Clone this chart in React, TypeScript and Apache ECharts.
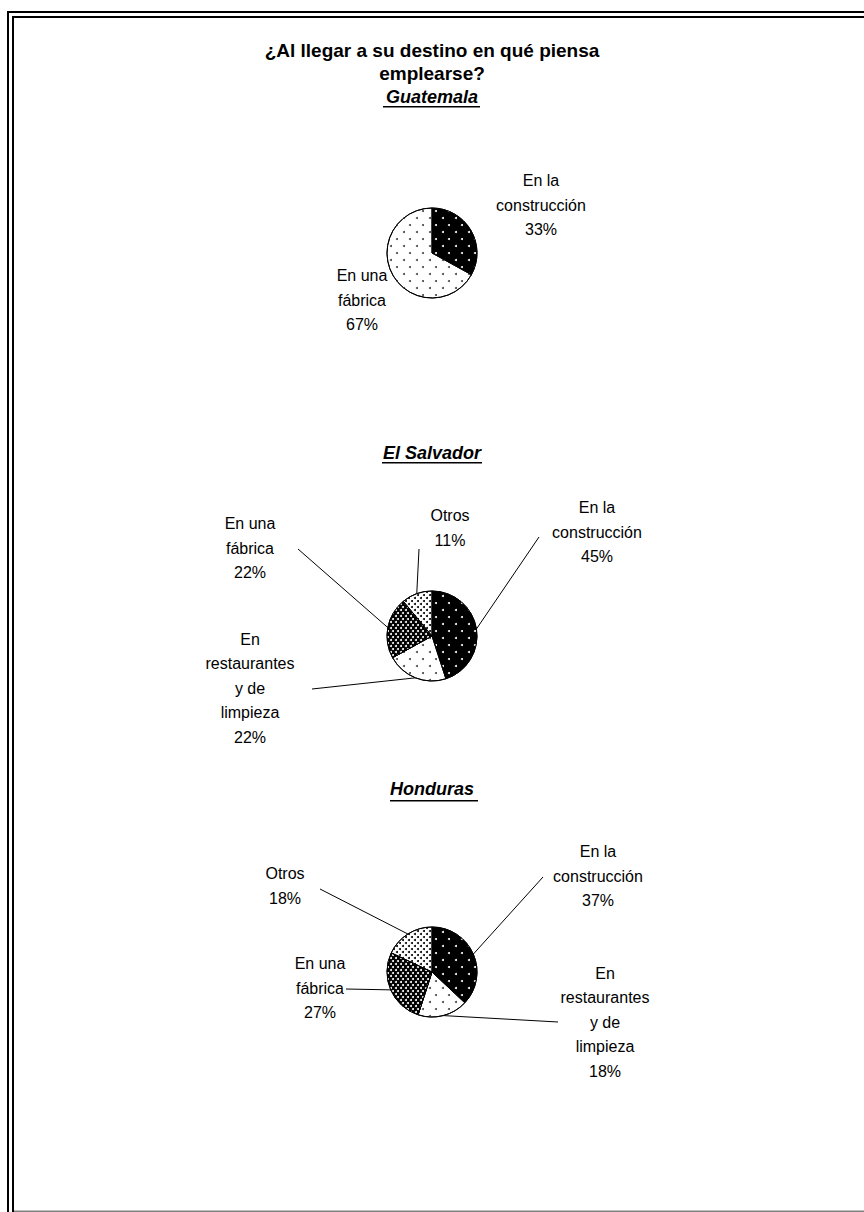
import React, { useEffect, useRef } from 'react';
import * as echarts from 'echarts';

const chartTitle = '¿Al llegar a su destino en qué piensa\nemplearse?';
const countries = ['Guatemala', 'El Salvador', 'Honduras'];

const categoriesGuatemala = ['En la\nconstrucción', 'En una\nfábrica'];
const valuesGuatemala = [33, 67];

const categoriesElSalvador = ['En la\nconstrucción', 'En\nrestaurantes\ny de\nlimpieza', 'En una\nfábrica', 'Otros'];
const valuesElSalvador = [45, 22, 22, 11];

const categoriesHonduras = ['En la\nconstrucción', 'En\nrestaurantes\ny de\nlimpieza', 'En una\nfábrica', 'Otros'];
const valuesHonduras = [37, 18, 27, 18];

// ---- layout (positions / styles only) ----
const FONT = '"Liberation Sans", Arial, Helvetica, sans-serif';
const pieCenters = [[432, 253], [432, 636], [432, 972]];
const pieRadius = 45;
const subtitleY = [97, 453, 789];
const underlines = [[383, 480, 106], [382, 482, 462], [390, 478, 800]];
// label block centre (x, y) and leader-line anchor (ax, ay)
const labelSpots = [
  [{ x: 541, y: 205 }, { x: 362, y: 300 }],
  [
    { x: 597, y: 532, ax: 539, ay: 537 },
    { x: 250, y: 688, ax: 312, ay: 689 },
    { x: 250, y: 548, ax: 298, ay: 549 },
    { x: 450, y: 528, ax: 419, ay: 549 },
  ],
  [
    { x: 598, y: 876, ax: 543, ay: 877 },
    { x: 605, y: 1022, ax: 558, ay: 1022 },
    { x: 320, y: 988, ax: 346, ay: 989 },
    { x: 285, y: 886, ax: 320, ay: 889 },
  ],
];

const decalConstruccion = {
  symbol: 'circle', symbolSize: 1, color: '#ffffff', backgroundColor: '#000000',
  dashArrayX: [[1.6, 10.4], [0, 6, 1.6, 4.4]], dashArrayY: [1.6, 4.4],
};
const decalSparseLight = {
  symbol: 'circle', symbolSize: 1, color: '#444444', backgroundColor: '#ffffff',
  dashArrayX: [[1.6, 10.4], [0, 6, 1.6, 4.4]], dashArrayY: [1.6, 4.4],
};
const decalDenseDark = {
  symbol: 'circle', symbolSize: 1, color: '#ffffff', backgroundColor: '#000000',
  dashArrayX: [[1.6, 2.4], [0, 2, 1.6, 0.4]], dashArrayY: [1.6, 0.4],
};
const decalDenseLight = {
  symbol: 'circle', symbolSize: 1, color: '#000000', backgroundColor: '#ffffff',
  dashArrayX: [[2, 4], [0, 3, 2, 1]], dashArrayY: [2, 1],
};
const slicePatterns = [
  { color: '#000000', decal: decalConstruccion },
  { color: '#ffffff', decal: decalSparseLight },
  { color: '#000000', decal: decalDenseDark },
  { color: '#ffffff', decal: decalDenseLight },
];

const pies = [
  { names: categoriesGuatemala, values: valuesGuatemala },
  { names: categoriesElSalvador, values: valuesElSalvador },
  { names: categoriesHonduras, values: valuesHonduras },
];

export default function App() {
  const ref = useRef<HTMLDivElement>(null);
  useEffect(() => {
    document.body.style.margin = '0';
    const chart = echarts.init(ref.current!, null, { renderer: 'svg' });

    const series = pies.map((p, si) => ({
      type: 'pie',
      center: pieCenters[si],
      radius: pieRadius,
      startAngle: 90,
      clockwise: true,
      avoidLabelOverlap: false,
      silent: true,
      percentPrecision: 0,
      data: p.names.map((n, i) => ({
        name: n,
        value: p.values[i],
        itemStyle: { color: slicePatterns[i].color, decal: slicePatterns[i].decal },
      })),
      itemStyle: { borderColor: '#000000', borderWidth: 1 },
      label: {
        show: true,
        position: 'outside',
        formatter: '{b}\n{d}%',
        fontSize: 16,
        lineHeight: 24.5,
        color: '#000000',
        fontFamily: FONT,
        align: 'center',
      },
      labelLine: { show: si > 0, length: 5, length2: 5, lineStyle: { color: '#000000', width: 1 } },
      labelLayout: (params: any) => {
        const spot: any = labelSpots[si][params.dataIndex];
        const res: any = { x: spot.x, y: spot.y, align: 'center', verticalAlign: 'middle' };
        const pts = params.labelLinePoints;
        if (si > 0 && pts && pts[0]) {
          res.labelLinePoints = [pts[0], pts[0], [spot.ax, spot.ay]];
        }
        return res;
      },
      emphasis: { disabled: true },
    }));

    const frame = [
      { x: 7, y: 11, width: 2, height: 1201 },
      { x: 7, y: 11, width: 857, height: 2 },
      { x: 12, y: 16, width: 2, height: 1196 },
      { x: 12, y: 16, width: 852, height: 2 },
    ];

    chart.setOption({
      animation: false,
      backgroundColor: '#ffffff',
      title: [
        {
          text: chartTitle, left: 'center', top: 38.5, padding: 0,
          textStyle: { fontSize: 19, fontWeight: 'bold', lineHeight: 23, color: '#000000', fontFamily: FONT },
        },
        ...countries.map((c, i) => ({
          text: c, left: 'center', top: subtitleY[i] - 11, padding: 0,
          textStyle: { fontSize: 18, fontWeight: 'bold', fontStyle: 'italic', lineHeight: 22, color: '#000000', fontFamily: FONT },
        })),
      ],
      graphic: [
        ...frame.map((r) => ({ type: 'rect', silent: true, shape: r, style: { fill: '#000000' } })),
        { type: 'rect', silent: true, shape: { x: 14, y: 1210.5, width: 850, height: 1.5 }, style: { fill: '#808080' } },
        ...underlines.map((u) => ({
          type: 'rect', silent: true,
          shape: { x: u[0], y: u[2], width: u[1] - u[0], height: 1.6 },
          style: { fill: '#000000' },
        })),
      ],
      series,
    });
    return () => chart.dispose();
  }, []);
  return <div ref={ref} style={{ width: 864, height: 1212 }} />;
}
